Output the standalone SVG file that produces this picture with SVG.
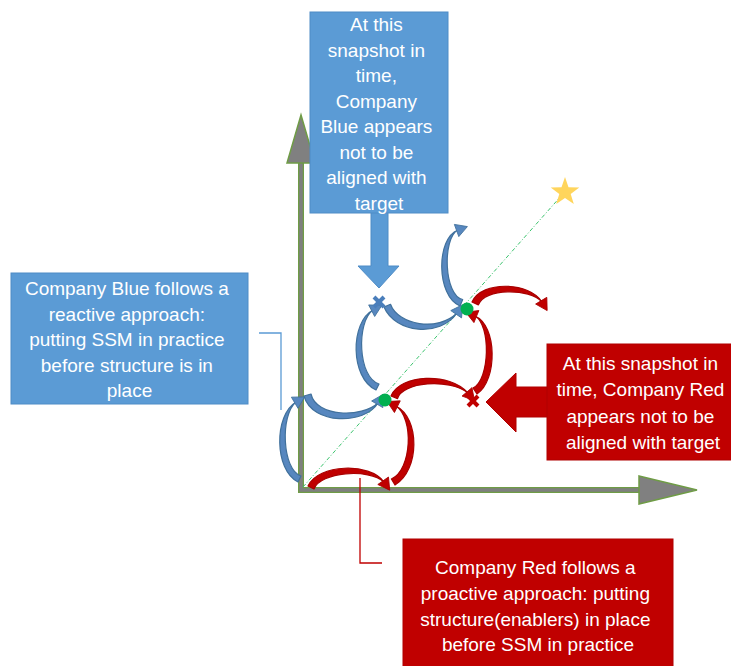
<svg xmlns="http://www.w3.org/2000/svg" width="731" height="666" viewBox="0 0 731 666">
  <style>
    .lbl { font-family: "Liberation Sans", Arial, sans-serif; font-size: 19px; fill: #ffffff; text-anchor: middle; }
    .box-blue { fill: #5b9bd5; stroke: #4f8cc6; stroke-width: 1; }
    .box-red { fill: #c00000; stroke: #b00000; stroke-width: 1; }
    .arc-blue { fill: #5787bf; stroke: #41719c; stroke-width: 1.2; stroke-linejoin: round; }
    .arc-red { fill: #c00000; stroke: #a80000; stroke-width: 1.2; stroke-linejoin: round; }
    .tip-blue { fill: none; stroke: none; marker-end: url(#headBlue); }
    .tip-red { fill: none; stroke: none; marker-end: url(#headRed); }
    .leader-blue { fill: none; stroke: #5b9bd5; stroke-width: 1.3; }
    .leader-red { fill: none; stroke: #c00000; stroke-width: 1.3; }
    .axis-out { fill: none; stroke: #6f9c46; stroke-width: 6; stroke-linejoin: miter; }
    .axis-in { fill: none; stroke: #7f7f7f; stroke-width: 3.4; stroke-linejoin: miter; }
    .axis-head { fill: #808080; stroke: #6f9c46; stroke-width: 1.5; }
    .xmark-blue { stroke: #4a7ebb; stroke-width: 4; }
    .xmark-red { stroke: #c00000; stroke-width: 4; }
    .dot { fill: #00b050; }
  </style>
  <defs>
    <marker id="headBlue" markerUnits="userSpaceOnUse" markerWidth="18" markerHeight="18" viewBox="-4 -9 18 18" refX="0" refY="0" orient="auto">
      <path d="M-1.5,-6.5 L10,0 L-1.5,6.5 Z" fill="#5787bf" stroke="#41719c" stroke-width="0.8"/>
    </marker>
    <marker id="headRed" markerUnits="userSpaceOnUse" markerWidth="18" markerHeight="18" viewBox="-4 -9 18 18" refX="0" refY="0" orient="auto">
      <path d="M-1.5,-6.5 L10,0 L-1.5,6.5 Z" fill="#c00000" stroke="#a80000" stroke-width="0.8"/>
    </marker>
  </defs>

  <rect width="731" height="666" fill="#ffffff"/>

  <!-- axes -->
  <g id="axes">
    <path class="axis-out" d="M301 162 L301 490 L640 490"/>
    <path class="axis-in" d="M301 162 L301 490 L640 490"/>
    <polygon class="axis-head" points="301,115 287,163 315,163"/>
    <polygon class="axis-head" points="639,476 697,490 639,504"/>
  </g>

  <!-- alignment target line and star -->
  <g id="target">
    <line x1="303" y1="487" x2="562" y2="195" stroke="#3cc46e" stroke-width="1" stroke-dasharray="4 2 1 2"/>
    <polygon fill="#ffd55c" points="565,177 568.5,187.3 579.3,187.4 570.7,193.9 573.8,204.1 565,198 556.2,204.1 559.3,193.9 550.7,187.4 561.5,187.3"/>
  </g>

  <!-- connectors -->
  <g id="connectors">
    <!-- Company Blue path -->
    <path class="arc-blue" d="M298 482 C274 470 274 415 296 402 C280 415 282 470 301 476 Z"/>
    <path class="tip-blue" d="M274 415 L296 402"/>
    <path class="arc-blue" d="M304 396 C312 425 365 425 378 403 C362 418 316 417 311 394 Z"/>
    <path class="tip-blue" d="M365 425 L378 403"/>
    <path class="arc-blue" d="M376 390 C350 378 350 322 373 310 C356 322 358 378 379 384 Z"/>
    <path class="tip-blue" d="M350 322 L373 310"/>
    <path class="arc-blue" d="M384 307 C395 333 440 338 457 313 C438 332 398 325 390.5 304.3 Z"/>
    <path class="tip-blue" d="M440 338 L457 313"/>
    <path class="arc-blue" d="M460 306 C436 296 436 238 458 230 C442 238 444 296 462.7 299.5 Z"/>
    <path class="tip-blue" d="M436 238 L458 230"/>

    <!-- Company Red path -->
    <path class="arc-red" d="M308 486 C318 464 370 462 384 482 C369 468 320 472 314 489 Z"/>
    <path class="tip-red" d="M370 462 L384 482"/>
    <path class="arc-red" d="M395 485 C420 470 420 418 396 406 C414 418 412 470 391.4 479 Z"/>
    <path class="tip-red" d="M420 418 L396 406"/>
    <path class="arc-red" d="M391 396 C400 374 450 372 468 393 C449 378 402 382 397.5 398.6 Z"/>
    <path class="tip-red" d="M450 372 L468 393"/>
    <path class="arc-red" d="M477 394 C498 380 497 325 475 316 C491 325 490 380 473 388 Z"/>
    <path class="tip-red" d="M497 325 L475 316"/>
    <path class="arc-red" d="M472 302 C482 280 530 282 542 302 C530 288 484 288 478.4 304.9 Z"/>
    <path class="tip-red" d="M530 282 L542 302"/>

    <!-- callout leader lines -->
    <polyline class="leader-blue" points="259,333 281,333 281,410"/>
    <polyline class="leader-red" points="360,478 360,563 382,563"/>
  </g>

  <!-- checkpoints -->
  <g id="checkpoint-1"><circle class="dot" cx="385" cy="400" r="6.5"/></g>
  <g id="checkpoint-2"><circle class="dot" cx="467" cy="309" r="6.5"/></g>
  <g id="miss-blue">
    <line class="xmark-blue" x1="374" y1="297" x2="384" y2="307"/>
    <line class="xmark-blue" x1="384" y1="297" x2="374" y2="307"/>
  </g>
  <g id="miss-red">
    <line class="xmark-red" x1="468" y1="396" x2="478" y2="406"/>
    <line class="xmark-red" x1="478" y1="396" x2="468" y2="406"/>
  </g>

  <!-- callout: Company Blue snapshot -->
  <g id="callout-blue-snapshot">
    <polygon class="box-blue" points="371,212 388,212 388,266 399,266 379,288 358,266 371,266"/>
    <rect class="box-blue" x="310" y="12" width="138" height="201"/>
    <text class="lbl" x="379">
      <tspan x="379" y="31">At this</tspan>
      <tspan x="379" y="56.5">snapshot in</tspan>
      <tspan x="379" y="82">time,</tspan>
      <tspan x="379" y="107.5">Company</tspan>
      <tspan x="379" y="133">Blue appears</tspan>
      <tspan x="379" y="158.5">not to be</tspan>
      <tspan x="379" y="184">aligned with</tspan>
      <tspan x="379" y="209.5">target</tspan>
    </text>
  </g>

  <!-- callout: Company Blue approach -->
  <g id="callout-blue-approach">
    <rect class="box-blue" x="11" y="273" width="237" height="131"/>
    <text class="lbl">
      <tspan x="129.5" y="295">Company Blue follows a</tspan>
      <tspan x="129.5" y="320.5">reactive approach:</tspan>
      <tspan x="129.5" y="346">putting SSM in practice</tspan>
      <tspan x="129.5" y="371.5">before structure is in</tspan>
      <tspan x="129.5" y="397">place</tspan>
    </text>
  </g>

  <!-- callout: Company Red snapshot -->
  <g id="callout-red-snapshot">
    <polygon class="box-red" points="548,387 516,387 516,373 486,402 516,432 516,417 548,417"/>
    <rect class="box-red" x="547" y="344" width="194" height="116"/>
    <text class="lbl">
      <tspan x="643" y="370">At this snapshot in</tspan>
      <tspan x="643" y="396">time, Company Red</tspan>
      <tspan x="643" y="422.5">appears not to be</tspan>
      <tspan x="643" y="449">aligned with target</tspan>
    </text>
  </g>

  <!-- callout: Company Red approach -->
  <g id="callout-red-approach">
    <rect class="box-red" x="403" y="539" width="270" height="130"/>
    <text class="lbl">
      <tspan x="538" y="574">Company Red follows a</tspan>
      <tspan x="538" y="600">proactive approach: putting</tspan>
      <tspan x="538" y="625.5">structure(enablers) in place</tspan>
      <tspan x="538" y="651">before SSM in practice</tspan>
    </text>
  </g>
</svg>
